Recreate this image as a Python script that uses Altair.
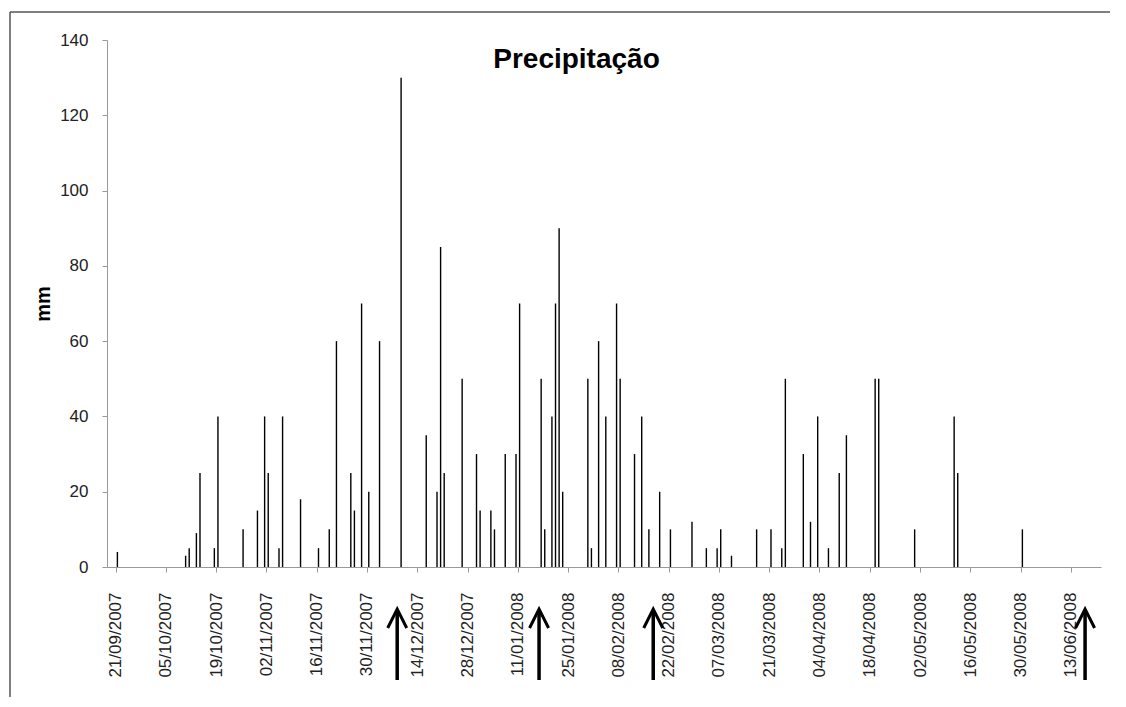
import altair as alt
import pandas as pd

# ---- data ----
rain_dates = [
    "21/09/2007", "10/10/2007", "11/10/2007", "13/10/2007", "14/10/2007", "18/10/2007",
    "19/10/2007", "26/10/2007", "30/10/2007", "01/11/2007", "02/11/2007", "05/11/2007",
    "06/11/2007", "11/11/2007", "16/11/2007", "19/11/2007", "21/11/2007", "25/11/2007",
    "26/11/2007", "28/11/2007", "30/11/2007", "03/12/2007", "09/12/2007", "16/12/2007",
    "19/12/2007", "20/12/2007", "21/12/2007", "26/12/2007", "30/12/2007", "31/12/2007",
    "03/01/2008", "04/01/2008", "07/01/2008", "10/01/2008", "11/01/2008", "17/01/2008",
    "18/01/2008", "20/01/2008", "21/01/2008", "22/01/2008", "23/01/2008", "30/01/2008",
    "31/01/2008", "02/02/2008", "04/02/2008", "07/02/2008", "08/02/2008", "12/02/2008",
    "14/02/2008", "16/02/2008", "19/02/2008", "22/02/2008", "28/02/2008", "03/03/2008",
    "06/03/2008", "07/03/2008", "10/03/2008", "17/03/2008", "21/03/2008", "24/03/2008",
    "25/03/2008", "30/03/2008", "01/04/2008", "03/04/2008", "06/04/2008", "09/04/2008",
    "11/04/2008", "19/04/2008", "20/04/2008", "30/04/2008", "11/05/2008", "12/05/2008",
    "30/05/2008",
]
rain_mm = [
    4, 3, 5, 9, 25, 5,
    40, 10, 15, 40, 25, 5,
    40, 18, 5, 10, 60, 25,
    15, 70, 20, 60, 130, 35,
    20, 85, 25, 50, 30, 15,
    15, 10, 30, 30, 70, 50,
    10, 40, 70, 90, 20, 50,
    5, 60, 40, 70, 50, 30,
    40, 10, 20, 10, 12, 5,
    5, 10, 3, 10, 10, 5,
    50, 30, 12, 40, 5, 25,
    35, 50, 50, 10, 40, 25,
    10,
]
arrow_dates = ["08/12/2007 10:00", "16/01/2008 22:00", "17/02/2008 17:00", "16/06/2008 23:00"]
tick_dates = [
    "21/09/2007", "05/10/2007", "19/10/2007", "02/11/2007", "16/11/2007", "30/11/2007",
    "14/12/2007", "28/12/2007", "11/01/2008", "25/01/2008", "08/02/2008", "22/02/2008",
    "07/03/2008", "21/03/2008", "04/04/2008", "18/04/2008", "02/05/2008", "16/05/2008",
    "30/05/2008", "13/06/2008",
]
y_ticks = [0, 20, 40, 60, 80, 100, 120, 140]
title_text = "Precipitação"
y_title = "mm"


def iso(s, default_time="12:00"):
    parts = s.split(" ")
    d, m, y = parts[0].split("/")
    t = parts[1] if len(parts) > 1 else default_time
    return f"{y}-{m}-{d}T{t}:00"


def dt(s):
    d, m, y = s.split("/")
    return alt.DateTime(year=int(y), month=int(m), date=int(d))


rain = pd.DataFrame({"date": [iso(s) for s in rain_dates], "mm": rain_mm})
arrows = pd.DataFrame({"date": [iso(s) for s in arrow_dates]})
one = pd.DataFrame({"t": [title_text]})

FONT = "Liberation Sans"
W, H = 994, 527
PAD = {"left": 99, "top": 32, "right": 10, "bottom": 130}

x_scale = alt.Scale(
    domain=[alt.DateTime(year=2007, month=9, date=20), alt.DateTime(year=2008, month=6, date=20)],
    nice=False,
)

x_axis = alt.Axis(
    values=[dt(s) for s in tick_dates],
    format="%d/%m/%Y",
    labelAngle=270,
    labelFontSize=17,
    labelColor="#222222",
    labelPadding=20,
    labelOverlap=False,
    labelFlush=False,
    tickSize=5,
    tickColor="#999999",
    domainColor="#999999",
    grid=False,
    title=None,
)

y_axis = alt.Axis(
    values=y_ticks,
    labelFontSize=17,
    labelColor="#222222",
    labelPadding=14,
    tickSize=5,
    tickColor="#999999",
    domainColor="#999999",
    grid=False,
    title=y_title,
    titleFontSize=20,
    titleFontWeight="bold",
    titleColor="black",
    titleAngle=270,
    titleX=-64,
    titleY=H / 2,
    titleAlign="center",
    titleBaseline="middle",
)

bars = alt.Chart(rain).mark_bar(size=1.4, color="black").encode(
    x=alt.X("date:T", scale=x_scale, axis=x_axis),
    y=alt.Y("mm:Q", scale=alt.Scale(domain=[0, 140], nice=False), axis=y_axis),
)

shafts = alt.Chart(arrows).mark_rule(strokeWidth=3.5, color="black").encode(
    x="date:T", y=alt.value(571), y2=alt.value(640)
)
heads = alt.Chart(arrows).mark_point(
    shape="M -1 1 L 0 -1 L 1 1", size=361, filled=False, strokeWidth=3,
    color="black", opacity=1, strokeJoin="miter",
).encode(x="date:T", y=alt.value(578.5))

title = alt.Chart(one).mark_text(
    font=FONT, fontSize=28, fontWeight="bold", color="black", align="center", baseline="alphabetic"
).encode(text="t:N", x=alt.value(469.5), y=alt.value(27.7))

frame_top = alt.Chart(one).mark_rule(color="#555555", strokeWidth=1.5).encode(
    x=alt.value(-97), x2=alt.value(W + PAD["right"] - 1), y=alt.value(-28)
)
frame_left = alt.Chart(one).mark_rule(color="#555555", strokeWidth=1.5).encode(
    x=alt.value(-97), y=alt.value(-28), y2=alt.value(H + PAD["bottom"])
)

chart = (
    alt.layer(frame_top, frame_left, bars, shafts, heads, title)
    .properties(
        width=W,
        height=H,
        autosize=alt.AutoSizeParams(type="none"),
        padding=PAD,
    )
    .configure(font=FONT)
    .configure_view(strokeWidth=0)
)

chart.save("out.html", embed_options={"renderer": "svg", "actions": False})
